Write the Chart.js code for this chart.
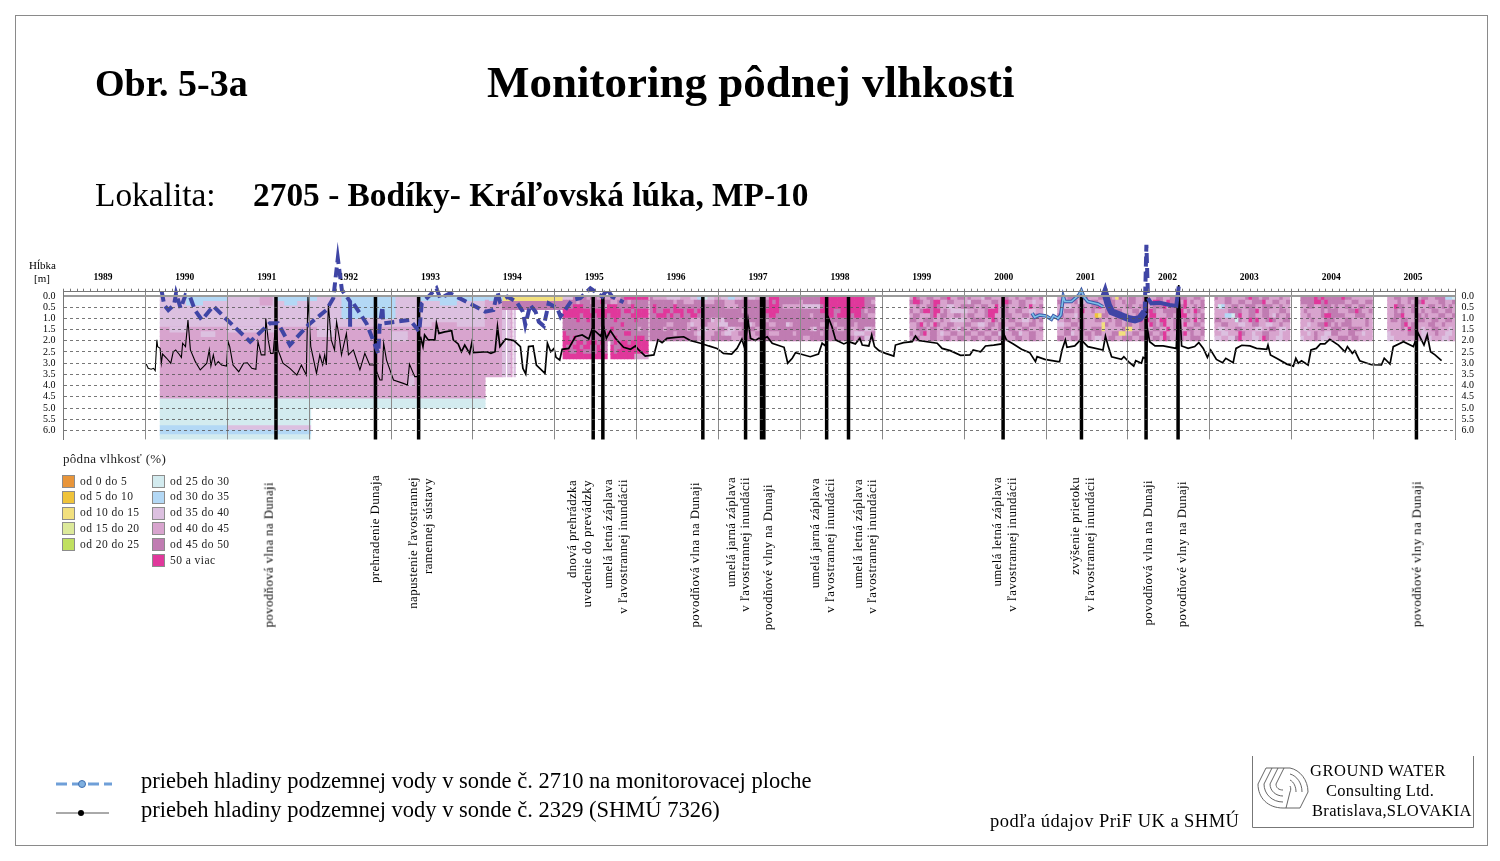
<!DOCTYPE html>
<html>
<head>
<meta charset="utf-8">
<script src="https://cdnjs.cloudflare.com/ajax/libs/Chart.js/4.4.1/chart.umd.min.js"></script>
<style>
  html, body { margin: 0; padding: 0; background: #fff; }
  body { width: 1500px; height: 861px; overflow: hidden; position: relative; font-family: "Liberation Serif", serif; color: #000; }
  #frame { position: absolute; left: 15px; top: 15px; width: 1473px; height: 831px; border: 1px solid #8a8a8a; box-sizing: border-box; }
  #chartbox { position: absolute; left: 0; top: 0; width: 1500px; height: 861px; }
  .t { position: absolute; white-space: nowrap; line-height: 1; }
  .v { position: absolute; white-space: nowrap; line-height: 1; writing-mode: vertical-rl; transform: rotate(180deg); font-size: 12.8px; letter-spacing: 0.42px; text-rendering: geometricPrecision; }
  .sw { position: absolute; width: 11px; height: 11px; border: 1px solid #8c8c8c; }
  .lg { position: absolute; white-space: nowrap; line-height: 1; font-size: 11.5px; letter-spacing: 0.45px; color: #222; }
</style>
</head>
<body>
<div id="frame"></div>
<div id="chartbox"><canvas id="soilChart" width="1500" height="861"></canvas></div>

<div class="t" style="left:95px;top:64px;font-size:38px;font-weight:bold">Obr. 5-3a</div>
<div class="t" style="left:487px;top:60px;font-size:45px;font-weight:bold">Monitoring pôdnej vlhkosti</div>
<div class="t" style="left:95px;top:178px;font-size:33.4px">Lokalita:</div>
<div class="t" style="left:253px;top:178px;font-size:33.4px;font-weight:bold">2705 - Bodíky- Kráľovská lúka, MP-10</div>
<div class="t" style="left:29px;top:260px;font-size:11px">Hĺbka</div>
<div class="t" style="left:34px;top:273px;font-size:11px">[m]</div>
<div class="t" style="left:63px;top:452px;font-size:13px;letter-spacing:0.3px;color:#222">pôdna vlhkosť (%)</div>

<svg style="position:absolute;left:50px;top:770px" width="70" height="56">
  <line x1="6" y1="14" x2="62" y2="14" stroke="#6f9fd8" stroke-width="3" stroke-dasharray="11 5"/>
  <circle cx="32" cy="14" r="3.5" fill="#7fb0e0" stroke="#3f6fb0"/>
  <line x1="6" y1="43" x2="59" y2="43" stroke="#555" stroke-width="1"/>
  <circle cx="31" cy="43" r="3" fill="#000"/>
</svg>
<div class="t" style="left:141px;top:770px;font-size:22.5px">priebeh hladiny podzemnej vody v sonde č. 2710 na monitorovacej ploche</div>
<div class="t" style="left:141px;top:799px;font-size:22.5px">priebeh hladiny podzemnej vody v sonde č. 2329 (SHMÚ 7326)</div>
<div class="t" style="left:990px;top:812px;font-size:18.5px;letter-spacing:0.45px">podľa údajov PriF UK a SHMÚ</div>

<svg style="position:absolute;left:1250px;top:754px" width="226" height="76">
  <polyline points="2.5,2 2.5,73.5 223.5,73.5 223.5,2" fill="none" stroke="#777"/>
  <g fill="none" stroke="#555" stroke-width="0.9">
    <path d="M16 14 L8 30 C8 44 18 54 33 54"/>
    <path d="M22 14 L14 30 C14 40 22 48 33 48"/>
    <path d="M28 14 L20 30 C20 37 26 42 33 42"/>
    <path d="M34 14 L26 30 C26 34 29 36 33 36"/>
    <path d="M16 14 H40 C50 16 58 26 58 38 L50 54 H33"/>
    <path d="M40 20 C47 22 52 29 52 38"/>
    <path d="M40 26 C44 28 46 33 46 38"/>
    <path d="M40 32 C41 34 41 36 40 38 L36 54"/>
  </g>
</svg>
<div class="t" style="left:1310px;top:763px;font-size:16.5px;letter-spacing:0.55px">GROUND WATER</div>
<div class="t" style="left:1326px;top:783px;font-size:16.5px;letter-spacing:0.3px">Consulting Ltd.</div>
<div class="t" style="left:1312px;top:803px;font-size:16.5px;letter-spacing:0.35px">Bratislava,SLOVAKIA</div>

<script>
// soil moisture classes, index is the digit used in the mosaic strings below
var classLabels = ['od 0 do 5','od 5 do 10','od 10 do 15','od 15 do 20','od 20 do 25','od 25 do 30','od 30 do 35','od 35 do 40','od 40 do 45','od 45 do 50','50 a viac'];
var classColors = ['#e8953a','#efc33a','#f2e07e','#dce99a','#c0e060','#d3ebef','#b3d8f5','#dcc0e0','#d8a4ce','#c07cb2','#e0389b'];

var yearLabels = [1989,1990,1991,1992,1993,1994,1995,1996,1997,1998,1999,2000,2001,2002,2003,2004,2005];
var depthTicks = [0,0.5,1,1.5,2,2.5,3,3.5,4,4.5,5,5.5,6];

// dates of the events marked with thick black lines
var eventYears = [1991.595,1992.81,1993.337,1995.469,1995.587,1996.808,1997.33,1997.525,1997.553,1998.32,1998.587,2000.475,2001.432,2002.221,2002.612,2005.523];

// well 2329 (SHMU 7326): [year, depth m]
var sonde2329 = [
[1990.01,3.04],[1990.035,3.23],[1990.07,3.27],[1990.10,3.23],[1990.12,3.33],[1990.14,1.96],[1990.15,2.26],[1990.18,2.34],[1990.195,3.0],[1990.21,2.59],[1990.26,2.78],[1990.31,3.0],[1990.34,2.49],[1990.37,2.41],[1990.41,2.59],[1990.44,2.74],[1990.455,2.11],[1990.49,2.26],[1990.52,1.07],[1990.55,2.41],[1990.61,2.93],[1990.67,3.3],[1990.71,3.15],[1990.75,3.0],[1990.78,2.41],[1990.80,3.13],[1990.83,2.63],[1990.855,3.08],[1990.89,2.93],[1990.93,3.08],[1990.99,3.13],
[1991.01,2.04],[1991.03,2.26],[1991.07,3.08],[1991.14,3.38],[1991.20,3.0],[1991.245,2.98],[1991.30,3.23],[1991.35,3.27],[1991.375,2.04],[1991.415,2.63],[1991.46,2.63],[1991.47,1.0],[1991.50,1.96],[1991.53,2.56],[1991.56,2.56],[1991.595,1.07],[1991.62,2.41],[1991.68,3.0],[1991.765,3.23],[1991.85,3.53],[1991.905,3.08],[1991.965,3.53],[1991.985,0.03],
[1992.02,2.26],[1992.09,3.45],[1992.13,2.63],[1992.165,3.08],[1992.19,2.63],[1992.21,3.08],[1992.235,0.4],[1992.27,1.96],[1992.31,2.41],[1992.335,1.15],[1992.37,1.89],[1992.395,2.63],[1992.455,1.67],[1992.48,2.63],[1992.54,2.41],[1992.62,3.3],[1992.68,2.56],[1992.74,3.08],[1992.795,3.08],[1992.84,3.53],[1992.865,3.75],[1992.89,3.75],[1992.91,2.11],[1992.945,2.86],
[1993.03,3.75],[1993.15,3.9],[1993.20,3.97],[1993.225,3.04],[1993.29,3.6],[1993.335,3.6],[1993.36,1.82],[1993.39,2.26],[1993.41,1.74],[1993.455,1.96],[1993.535,1.96],[1993.555,1.22],[1993.585,1.67],[1993.655,1.6],[1993.74,1.55],[1993.76,1.96],[1993.82,2.14],[1993.86,2.49],[1993.90,2.19],[1993.96,2.56],[1993.99,2.04],
[1994.005,2.53],[1994.17,2.49],[1994.22,2.56],[1994.27,2.49],[1994.30,1.37],[1994.33,2.26],[1994.40,1.92],[1994.5,1.99],[1994.56,2.19],[1994.58,2.26],[1994.61,3.23],[1994.645,3.48],[1994.68,2.26],[1994.735,2.23],[1994.775,3.08],[1994.88,3.45],[1994.91,2.11],[1994.95,2.49],[1994.99,2.34],
[1995.015,2.74],[1995.06,2.86],[1995.09,2.38],[1995.17,2.34],[1995.25,1.82],[1995.335,1.74],[1995.415,1.92],[1995.455,1.49],[1995.5,1.59],[1995.56,1.79],[1995.6,1.44],[1995.63,1.89],[1995.68,1.55],[1995.74,1.89],[1995.84,2.29],[1995.925,2.38],[1995.985,2.23],
[1996.025,2.41],[1996.105,2.68],[1996.21,2.63],[1996.26,1.96],[1996.31,2.08],[1996.37,1.89],[1996.475,1.85],[1996.575,1.82],[1996.655,1.99],[1996.78,2.11],[1996.88,2.23],[1996.98,2.34],
[1997.06,2.56],[1997.16,2.59],[1997.225,2.34],[1997.285,1.93],[1997.32,2.34],[1997.36,1.07],[1997.39,1.89],[1997.45,1.99],[1997.49,1.89],[1997.55,1.89],[1997.595,1.82],[1997.655,2.11],[1997.80,2.29],[1997.845,3.0],[1997.90,2.78],[1997.94,2.53],
[1998.0,2.59],[1998.12,2.71],[1998.22,2.59],[1998.265,2.11],[1998.305,2.23],[1998.345,1.0],[1998.385,1.37],[1998.43,1.96],[1998.53,2.14],[1998.59,2.04],[1998.67,2.14],[1998.725,1.89],[1998.755,2.19],[1998.835,2.23],[1998.87,1.74],[1998.905,2.26],[1998.96,2.44],
[1999.04,2.56],[1999.14,2.68],[1999.16,2.19],[1999.26,2.08],[1999.365,2.04],[1999.405,1.79],[1999.445,1.99],[1999.67,2.11],[1999.73,2.34],[1999.83,2.44],[1999.955,2.65],
[2000.07,2.63],[2000.11,2.41],[2000.2,2.49],[2000.26,2.23],[2000.36,2.19],[2000.455,2.14],[2000.48,1.67],[2000.515,1.96],[2000.6,2.14],[2000.70,2.38],[2000.8,2.53],[2000.87,2.93],[2000.89,2.71],[2000.985,2.83],
[2001.145,2.93],[2001.165,2.93],[2001.195,2.41],[2001.235,1.96],[2001.255,2.29],[2001.35,2.23],[2001.42,1.96],[2001.45,2.04],[2001.51,2.26],[2001.695,2.41],[2001.725,1.79],[2001.76,2.26],[2001.80,2.71],[2001.92,2.83],[2001.95,2.71],
[2002.02,2.98],[2002.07,3.13],[2002.095,2.89],[2002.165,3.0],[2002.185,2.74],[2002.22,2.78],[2002.24,1.52],[2002.265,2.04],[2002.33,2.23],[2002.43,2.23],[2002.59,2.34],[2002.62,-0.49],[2002.655,2.23],[2002.735,2.34],[2002.815,2.26],[2002.865,2.08],[2002.92,2.34],[2002.97,2.74],
[2003.01,2.41],[2003.08,2.83],[2003.155,2.98],[2003.195,2.78],[2003.285,2.98],[2003.32,2.34],[2003.39,2.2],[2003.49,2.23],[2003.57,2.34],[2003.695,2.38],[2003.71,2.19],[2003.74,2.63],[2003.815,2.78],[2003.94,3.04],
[2004.02,3.13],[2004.05,2.78],[2004.08,3.0],[2004.12,2.89],[2004.20,3.08],[2004.235,2.41],[2004.30,2.34],[2004.35,2.14],[2004.405,2.14],[2004.465,1.93],[2004.57,2.19],[2004.65,2.49],[2004.68,2.26],[2004.74,2.56],[2004.77,2.44],[2004.83,2.89],[2004.975,3.07],
[2005.095,3.08],[2005.13,2.78],[2005.2,3.04],[2005.24,2.26],[2005.365,2.04],[2005.485,2.26],[2005.545,1.67],[2005.615,2.19],[2005.655,1.74],[2005.695,2.49],[2005.75,2.63],[2005.83,2.89]
];

// well 2710 on the monitoring plot, dashed part
var sonde2710Early = [
[1990.2,-0.19],[1990.23,0.4],[1990.28,0.63],[1990.35,0.4],[1990.375,-0.12],[1990.40,0.18],[1990.43,0.55],[1990.49,-0.04],[1990.545,0.03],[1990.605,0.63],[1990.69,1.07],[1990.83,0.45],[1990.99,1.04],[1991.28,2.04],[1991.52,1.22],[1991.62,1.22],[1991.765,2.19],[1991.99,1.29],[1992.21,0.63],[1992.295,0.1],[1992.35,-1.68],[1992.40,-0.27],[1992.5,0.25],[1992.5,1.37],[1992.5,0.25],[1992.54,0.33],[1992.70,1.22],[1992.845,2.56],[1992.86,1.37],[1992.895,0.48],[1992.905,1.22],[1993.23,1.07],[1993.345,1.59],[1993.375,0.33],[1993.475,-0.04],[1993.555,-0.34],[1993.6,0.1],[1993.72,-0.12],[1993.96,0.33],[1994.15,0.7],[1994.25,0.63],[1994.3,-0.19],[1994.33,0.25],[1994.42,0.03],[1994.53,0.25],[1994.61,0.7],[1994.64,1.29],[1994.7,0.4],[1994.765,0.7],[1994.805,1.15],[1994.865,1.34],[1994.925,0.33],[1995.03,0.55],[1995.07,0.92],[1995.21,0.18],[1995.31,0.1],[1995.435,-0.34],[1995.52,-0.12],[1995.58,0.03],[1995.64,-0.3],[1995.7,0.03],[1995.84,0.28]
];
// dense measurements, light blue line with dark edge
var sonde2710Light = [
[2000.83,0.77],[2000.86,0.95],[2000.92,0.85],[2001.0,0.89],[2001.065,1.04],[2001.09,0.89],[2001.145,1.0],[2001.18,0.85],[2001.21,0.03],[2001.23,0.25],[2001.31,0.25],[2001.40,-0.04],[2001.43,-0.24],[2001.46,0.03],[2001.51,0.25],[2001.635,0.36],[2001.695,0.48]
];
// dark heavy stretch
var sonde2710Dark = [
[2001.705,0.03],[2001.72,-0.12],[2001.76,0.4],[2001.8,0.7],[2001.9,0.85],[2002.0,1.0],[2002.085,1.07],[2002.145,1.0],[2002.205,0.7]
];
var sonde2710Spike = [[2002.205,0.7],[2002.225,-2.28],[2002.245,0.1]];
var sonde2710Late = [[2002.245,0.1],[2002.285,0.33],[2002.39,0.3],[2002.51,0.4],[2002.59,0.45],[2002.62,-0.42]];

// big soil bands of the early years: [depth from, depth to, year from, year to, class]
var soilBands = [
[0,1.4,1990.18,1991.0,7],[0,0.2,1990.5,1991.6,6],[0.2,0.4,1991.1,1991.35,6],[0.2,0.4,1990.5,1990.7,6],
[0,1.6,1991.0,1992.1,7],[0,0.2,1991.6,1992.4,6],[0.2,0.4,1991.7,1991.85,6],[0.4,0.6,1992.1,1992.3,6],[0,0.4,1991.4,1991.55,8],[0,0.4,1992.3,1992.4,8],
[0,1.4,1992.1,1993.35,7],[0,1.0,1992.4,1993.05,6],[1.0,1.4,1992.6,1992.9,7],
[0,1.4,1993.35,1994.2,7],[0,0.2,1993.35,1994.4,6],[0.2,0.4,1993.6,1993.8,6],[1.2,1.6,1993.5,1993.8,8],
[1.4,4.6,1990.18,1994.15,8],[1.4,1.6,1990.3,1990.5,7],[1.6,1.8,1990.68,1990.85,7],[1.4,1.6,1991.0,1991.6,7],[1.4,1.8,1992.1,1992.3,7],[1.6,2.0,1993.0,1993.2,7],
[3.6,4.0,1993.22,1993.28,7],
[1.6,3.6,1994.15,1994.36,8],[0.2,1.6,1994.15,1994.36,8],[0.6,3.6,1994.36,1994.40,7],[0.6,3.6,1994.42,1994.45,7],[0.6,3.6,1994.46,1994.48,8],[0.6,3.6,1994.5,1994.52,7],
[0,0.6,1994.36,1995.1,9],[0,0.2,1994.36,1995.1,2],[0,0.2,1994.2,1994.36,6],
[4.6,5.0,1990.18,1994.15,5],[5.0,5.8,1990.18,1992.02,5],[5.8,6.0,1990.18,1991.0,6],[5.8,6.0,1991.0,1992.02,7],[6.0,6.2,1990.18,1992.02,6],[6.2,6.4,1990.18,1992.02,5]
];

// mosaics, one string per 0.2 m layer from the top, one character per half month
var mosaic1995 = [
'7779999899888898 89XXXXXXX',
'9999899989 9X99889998 99999',
'999XXX9999 998XXX9999 X9999',
'XXXXXXXX9X XXXXXXX9XX 9XXXX',
'XXXXX9XXX9 XXX9XXX999 XXXXX',
'9999X99X99 99999X9999 9X999',
'9999999999 9999999X99 99999',
'9999999999 9899X99999 99899',
'X9999999X9 999X9999XX 99999',
'XX9X999999 99999X9999 9XXX9',
'XXX9XX9XXX 9X9.9X9XX9 XXXXX',
'X99XX9XX99 X99.X99XXX XXXXX',
'XX99XX9999 XX9.X9XXXX XXXXX',
'XXXXXXXXXX XXX.XXXXXX X8888'
];
var mosaic1996 = [
'9888877778 8877665778 8776677887 78888XXX99 9999999999 XXXXXXXXXX XXX999',
'9999999899 8889998889 9988899999 99999X9X99 9999899999 XXXXXXXXXX XXX998',
'9X99999X99 9999999999 9988889999 99999XXX98 8888877777 9XXXXXXXXX XXX999',
'9X99XX9XXX 9XX9X99999 9999999899 9999XXXX99 9999999999 XXXX99XXXX XX9899',
'99XXX9X99X 99XX999999 9999999999 99999XX999 9999999899 99XX9XXXX9 XX9988',
'9999999999 9988899978 8799998899 9999899999 9999999999 9999999999 999999',
'9999988999 9878899888 7779999987 8999988999 7899999999 8899899999 899999',
'9999899999 9899877888 9987788999 9888999999 9999999879 9999988998 899778',
'9999999899 9998778889 9877889998 8999988899 9989999999 8999999988 777889',
'9999999999 9999888899 9999888999 8899999999 9999988999 9999999999 899778'
];
var mosaic1999 = [
'8X98899889 9X88998988 8799888X98 898899889',
'9XX9889XX8 8998888799 9888998XX9 889988788',
'8898899X98 8778899998 89988X8998 88998X889',
'9889XX9XX8 9877777889 889XXX8898 899887788',
'8998889X89 9889988998 889XX88799 888998898',
'9988999889 8877778899 9988X98889 988778989',
'889X898X98 8998889988 7789989988 899889988',
'8899989988 9988798899 8899889879 988998889',
'9889X89987 8899889988 9988997788 997889988',
'8998889988 9988998899 8899889988 899889988'
];
var mosaic2001 = [
'8889988998 8899998298 8998899889 9889989988 998',
'9988897788 9988899889 89988998XX 98X9988X89 889',
'8877889988 99X8899888 9988998899 9X89989X88 989',
'8899989X88 9888988998 8899889X98 899998X898 X98',
'9988879888 8129988998 9889988XX8 889989XX88 989',
'8899889988 8998898998 8899X9X998 XX88998998 X89',
'7788998988 8882988998 9988998X98 9X88998X88 998',
'8899889988 9992888889 2288998899 88X8998899 889',
'8899788899 8998889922 8899889988 9X88899X89 889',
'9988998889 8778899889 9988998899 8X98899889 998'
];
var mosaic2003 = [
'9889988889 X998998889 88',
'8889988998 8999X88998 89',
'8568899889 9988999889 88',
'8888999988 99X8998889 98',
'8886659X88 9988998798 89',
'9988885988 X9X889X988 99',
'8899888778 8998877889 88',
'8778889988 8877889987 78',
'8877888X98 8788998887 88',
'7788779X88 8778X98877 88'
];
var mosaic2004 = [
'9999X9X999 99X9988888 8',
'9999XX9X99 9998899889 9',
'8899889998 9889988998 8',
'8988889899 988899X988 9',
'8898889XX9 9998889998 8',
'8889888999 8889988889 8',
'8878899X98 9899988889 8',
'8788889889 9988999988 8',
'8878988779 9888998878 8',
'7888987788 8999899888 8'
];
var mosaic2005 = [
'8899889988 9988999665',
'8889889899 X888899889',
'88X9988998 8899889898',
'8898988998 9889988998',
'8899X88899 8988899889',
'8998998889 9889988998',
'88889X8998 8899889888',
'888898X988 7889988878',
'7888889988 7788988778',
'7788888888 7878887788'
];
// where each mosaic starts (year, first layer top in m is always 0)
var mosaicStarts = [[mosaic1995,1995.10],[mosaic1996,1996.16],[mosaic1999,1999.336],[mosaic2001,2001.14],[mosaic2003,2003.06],[mosaic2004,2004.11],[mosaic2005,2005.17]];

// vertical notes below the chart: [text, centre x, top y]
var notes = [
['povodňová vlna na Dunaji',270,482],
['prehradenie Dunaja',376,475],
['napustenie ľavostrannej',414,477],['ramennej sústavy',429,478],
['dnová prehrádzka',573,480],['uvedenie do prevádzky',588,480],
['umelá letná záplava',609,479],['v ľavostrannej inundácii',624,479],
['povodňová vlna na Dunaji',696,482],
['umelá jarná záplava',732,477],['v ľavostrannej inundácii',746,477],
['povodňové vlny na Dunaji',769,484],
['umelá jarná záplava',816,478],['v ľavostrannej inundácii',831,478],
['umelá letná záplava',859,479],['v ľavostrannej inundácii',873,479],
['umelá letná záplava',998,477],['v ľavostrannej inundácii',1013,477],
['zvýšenie prietoku',1076,477],['v ľavostrannej inundácii',1091,477],
['povodňová vlna na Dunaji',1149,480],
['povodňové vlny na Dunaji',1183,481],
['povodňové vlny na Dunaji',1418,481]
];

notes.forEach(function (n) {
  var d = document.createElement('div');
  d.className = 'v';
  d.textContent = n[0];
  d.style.left = (n[1] - 7) + 'px';
  d.style.top = n[2] + 'px';
  document.body.appendChild(d);
});

classLabels.forEach(function (lab, i) {
  var col = i < 5 ? 0 : 1;
  var row = i < 5 ? i : i - 5;
  var top = 475 + row * 15.8;
  var sw = document.createElement('div');
  sw.className = 'sw';
  sw.style.left = (col ? 152 : 62) + 'px';
  sw.style.top = top + 'px';
  sw.style.background = classColors[i];
  document.body.appendChild(sw);
  var t = document.createElement('div');
  t.className = 'lg';
  t.textContent = lab;
  t.style.left = (col ? 170 : 80) + 'px';
  t.style.top = (top + 0.5) + 'px';
  document.body.appendChild(t);
});

function toXY(pairs) {
  return pairs.map(function (p) { return { x: p[0], y: p[1] }; });
}

// soil cells as horizontal floating bars, one bar per cell
var cells = [], cellColors = [];
var layer = 0.2;
function addCell(from, to, depth, cls) {
  cells.push({ x: [from, to], y: depth });
  cellColors.push(classColors[cls]);
}
soilBands.forEach(function (b) {
  for (var r = 0; r < 32; r++) {
    var mid = (r + 0.5) * layer;
    if (mid > b[0] && mid < b[1]) addCell(b[2], b[3], mid, b[4]);
  }
});
mosaicStarts.forEach(function (m) {
  m[0].forEach(function (row, r) {
    var s = row.replace(/ /g, '');
    for (var c = 0; c < s.length; c++) {
      if (s[c] === '.') continue;
      var cls = s[c] === 'X' ? 10 : +s[c];
      addCell(m[1] + c / 24, m[1] + (c + 1) / 24, (r + 0.5) * layer, cls);
    }
  });
});

var eventPoints = [];
eventYears.forEach(function (t) {
  eventPoints.push({ x: t, y: 0 }, { x: t, y: 6.4 }, { x: t, y: null });
});

var monthTicks = [];
yearLabels.forEach(function (y) {
  for (var m = 0; m < 12; m++) monthTicks.push({ value: y + m / 12 });
});
monthTicks.push({ value: 2006 });

function isYear(v) { return Math.abs(v - Math.round(v)) < 1e-6; }
// tick labels must not push the chart area in
function noLabelPadding(s) { s.paddingTop = 0; s.paddingBottom = 0; s.paddingLeft = 0; s.paddingRight = 0; }

var axisFont = { family: '"Liberation Serif"', size: 10 };

new Chart('soilChart', {
  data: {
    datasets: [
      { type: 'line', data: toXY(sonde2710Light), borderColor: '#7cc0e8', borderWidth: 1.6, pointRadius: 0, clip: false, order: 1 },
      { type: 'line', data: toXY(sonde2710Light), borderColor: '#3d5aa8', borderWidth: 3.6, pointRadius: 0, clip: false, order: 2 },
      { type: 'line', data: toXY(sonde2710Dark), borderColor: '#3f45a5', borderWidth: 7, pointRadius: 0, clip: false, order: 2 },
      { type: 'line', data: toXY(sonde2710Late), borderColor: '#3f45a5', borderWidth: 4, pointRadius: 0, clip: false, order: 2 },
      { type: 'line', data: toXY(sonde2710Spike), borderColor: '#3f45a5', borderWidth: 4, borderDash: [10, 5], pointRadius: 0, clip: false, order: 2 },
      { type: 'line', data: toXY(sonde2710Early), borderColor: '#3f45a5', borderWidth: 4, borderDash: [10, 5], pointRadius: 0, clip: false, order: 2 },
      { type: 'line', data: eventPoints, borderColor: '#000', borderWidth: 3.5, pointRadius: 0, clip: false, order: 3 },
      { type: 'line', data: toXY(sonde2329), borderColor: '#000', borderWidth: 1.7, pointRadius: 0, clip: false, order: 4,
        segment: { borderWidth: function (c) { return c.p0.parsed.x < 1993.35 ? 1.1 : 1.7; } } },
      { type: 'bar', indexAxis: 'y', data: cells, backgroundColor: cellColors, barThickness: 5, xAxisID: 'x', yAxisID: 'y', order: 5 }
    ]
  },
  options: {
    responsive: false,
    animation: false,
    events: [],
    layout: { padding: { left: 0, right: 0, top: 0, bottom: 421.6 } },
    plugins: { legend: { display: false }, tooltip: { enabled: false } },
    scales: {
      x: {
        type: 'linear', position: 'top', min: 1989, max: 2006,
        afterBuildTicks: function (s) { s.ticks = monthTicks; },
        afterFit: function (s) { s.height = 291.7; noLabelPadding(s); },
        ticks: {
          autoSkip: false, maxRotation: 0, minRotation: 0, padding: 5, labelOffset: -1.5, color: '#000',
          font: { family: '"Liberation Serif"', size: 9.5, weight: 'bold' },
          callback: function (v) {
            var y = Math.floor(v);
            return Math.abs(v - y - 0.5) < 1e-6 ? String(y) : '';
          }
        },
        border: { display: true, z: 1, color: '#777', width: 1 },
        grid: {
          z: 1, drawTicks: true, tickLength: 3,
          color: function (c) { return c.tick && isYear(c.tick.value) ? '#8a8a8a' : 'rgba(0,0,0,0)'; },
          tickColor: '#777'
        }
      },
      y: {
        type: 'linear', position: 'left', reverse: true, min: -0.19, max: 6.4, offset: false,
        afterBuildTicks: function (s) { s.ticks = depthTicks.map(function (v) { return { value: v }; }); },
        afterFit: function (s) { s.width = 63.5; noLabelPadding(s); },
        ticks: { padding: 8, color: '#000', font: axisFont, autoSkip: false, callback: function (v) { return v.toFixed(1); } },
        border: { display: true, z: 1, color: '#777', dash: function (c) { return c.tick && c.tick.value !== 0 ? [3, 3] : []; } },
        grid: {
          z: 1, drawTicks: false, offset: false,
          color: function (c) { return c.tick && c.tick.value === 0 ? '#9a9a9a' : '#555'; },
          lineWidth: function (c) { return c.tick && c.tick.value === 0 ? 2 : 0.8; }
        }
      },
      y2: {
        type: 'linear', position: 'right', reverse: true, min: -0.19, max: 6.4,
        afterBuildTicks: function (s) { s.ticks = depthTicks.map(function (v) { return { value: v }; }); },
        afterFit: function (s) { s.width = 44.5; noLabelPadding(s); },
        ticks: { padding: 6, color: '#000', font: axisFont, autoSkip: false, callback: function (v) { return v.toFixed(1); } },
        border: { display: true, color: '#777' },
        grid: { display: false, drawOnChartArea: false, drawTicks: false }
      }
    }
  }
});
</script>
</body>
</html>
